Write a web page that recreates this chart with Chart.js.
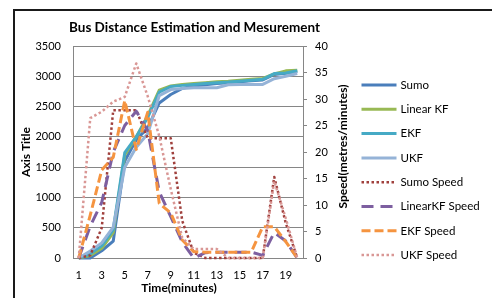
<!DOCTYPE html>
<html>
<head>
<meta charset="utf-8">
<title>Bus Distance Estimation and Mesurement</title>
<script src="https://cdn.jsdelivr.net/npm/chart.js@4.4.1/dist/chart.umd.min.js"></script>
<style>
    html, body { margin: 0; padding: 0; background: #fff; overflow: hidden; }
    #wrap { position: relative; width: 492px; height: 298px; }
</style>
</head>
<body>
<div id="wrap"><canvas id="busChart" width="492" height="298"></canvas></div>
<script>
// Time axis (minutes)
const minutes = [1, 2, 3, 4, 5, 6, 7, 8, 9, 10, 11, 12, 13, 14, 15, 16, 17, 18, 19, 20];

// Distance (left axis)
const sumoDist     = [0, 0, 120, 280, 1600, 1950, 2150, 2560, 2700, 2800, 2840, 2860, 2880, 2895, 2910, 2925, 2940, 3030, 3050, 3080];
const linearKfDist = [0, 40, 160, 420, 1700, 2000, 2350, 2770, 2840, 2865, 2880, 2895, 2910, 2920, 2935, 2950, 2965, 3040, 3090, 3100];
const ekfDist      = [0, 70, 200, 470, 1740, 2000, 2320, 2740, 2830, 2850, 2865, 2880, 2895, 2905, 2920, 2935, 2950, 3045, 3055, 3090];
const ukfDist      = [0, 115, 250, 510, 1500, 1830, 2050, 2680, 2780, 2800, 2810, 2810, 2810, 2860, 2865, 2865, 2865, 2960, 3000, 3045];

// Speed (right axis)
const sumoSpeed     = [0, 0.5, 5.7, 27.9, 27.9, 27.9, 22.6, 22.6, 22.6, 7, 1, 0, 0, 0, 0, 0, 0, 15.3, 6.6, 0];
const linearKfSpeed = [0, 6, 10.5, 20, 25, 27.7, 24, 12.5, 7.8, 3, 0, 1, 1.1, 1.1, 1.1, 1.1, 0.5, 4.8, 3.2, 0];
const ekfSpeed      = [0, 8.1, 16.6, 19, 29.7, 20.5, 27.5, 10.3, 8.5, 3.4, 1.2, 1.1, 1.1, 1.1, 1.1, 1.1, 5.9, 5.9, 3.1, 0];
const ukfSpeed      = [0, 26.4, 27.6, 29.5, 30.4, 36.7, 30.5, 23, 13, 3.8, 1.7, 1.7, 1.7, 0, 0, 0, 0, 14.5, 7.5, 0];

const FONT = 'Lato, "Open Sans", sans-serif';

// helper for one series
function series(label, data, color, axis, width, dash) {
    return {
        label: label,
        data: data,
        yAxisID: axis,
        borderColor: color,
        backgroundColor: color,
        borderWidth: width,
        borderDash: dash,
        borderJoinStyle: 'round',
        pointRadius: 0,
        pointHoverRadius: 0,
        tension: 0,
        fill: false,
        clip: false
    };
}

const datasets = [
    series('Sumo', sumoDist, '#4A7EBB', 'y', 3, []),
    series('Linear KF', linearKfDist, '#98B954', 'y', 3, []),
    series('EKF', ekfDist, '#46AAC5', 'y', 3, []),
    series('UKF', ukfDist, '#95B3D7', 'y', 3, []),
    series('Sumo Speed', sumoSpeed, '#A0403D', 'y1', 2.5, [2.5, 2.5]),
    series('LinearKF Speed', linearKfSpeed, '#7D5FA0', 'y1', 3, [12, 7]),
    series('EKF Speed', ekfSpeed, '#F59440', 'y1', 3, [9, 4]),
    series('UKF Speed', ukfSpeed, '#D99795', 'y1', 2.5, [2.5, 2.5])
];
// later series on top, like the original
datasets.forEach((ds, i) => { ds.order = datasets.length - 1 - i; });

// frame, titles and legend
const chartDecor = {
    id: 'chartDecor',
    beforeDraw(chart) {
        const ctx = chart.ctx;
        ctx.save();
        ctx.fillStyle = '#fff';
        ctx.fillRect(0, 0, chart.width, chart.height);
        ctx.fillStyle = '#1a1a1a';
        ctx.fillRect(13, 9, chart.width - 13, 2);
        ctx.fillRect(13, 9, 2, chart.height - 9);
        ctx.restore();
    },
    afterDraw(chart) {
        const ctx = chart.ctx;
        ctx.save();
        ctx.fillStyle = '#000';
        ctx.textBaseline = 'middle';
        ctx.textAlign = 'center';

        ctx.font = 'bold 13.5px ' + FONT;
        ctx.fillText('Bus Distance Estimation and Mesurement', 194.5, 28);

        ctx.font = 'bold 12px ' + FONT;
        ctx.fillText('Time(minutes)', 179, 288);

        ctx.save();
        ctx.translate(26.5, 152);
        ctx.rotate(-Math.PI / 2);
        ctx.fillText('Axis Title', 0, 0);
        ctx.restore();

        ctx.save();
        ctx.translate(343.5, 146.5);
        ctx.rotate(-Math.PI / 2);
        ctx.fillText('Speed(metres/minutes)', 0, 0);
        ctx.restore();

        // legend
        ctx.textAlign = 'left';
        ctx.font = '11.5px ' + FONT;
        chart.data.datasets.forEach((ds, i) => {
            const y = 85 + i * 24.3;
            ctx.save();
            ctx.strokeStyle = ds.borderColor;
            ctx.lineWidth = ds.borderWidth;
            ctx.setLineDash(ds.borderDash);
            ctx.beginPath();
            ctx.moveTo(361.5, y);
            ctx.lineTo(396.5, y);
            ctx.stroke();
            ctx.restore();
            ctx.fillText(ds.label, 400.5, y);
        });
        ctx.restore();
    }
};

const tickFont = { family: FONT, size: 11 };
const plainNumber = (value) => String(value);

new Chart(document.getElementById('busChart'), {
    type: 'line',
    data: {
        labels: minutes,
        datasets: datasets
    },
    options: {
        responsive: false,
        animation: false,
        devicePixelRatio: 1,
        layout: { padding: { top: 46, left: 0, right: 0, bottom: 0 } },
        plugins: {
            legend: { display: false },
            title: { display: false },
            tooltip: { enabled: false }
        },
        scales: {
            x: {
                type: 'category',
                offset: true,
                grid: { display: false, drawTicks: false },
                border: { display: true, color: '#868686' },
                ticks: {
                    autoSkip: false,
                    maxRotation: 0,
                    padding: 11,
                    color: '#000',
                    font: tickFont,
                    callback: function (value, index) {
                        return index % 2 === 0 ? this.getLabelForValue(value) : '';
                    }
                },
                afterFit: (scale) => { scale.height = 40; }
            },
            y: {
                position: 'left',
                min: 0,
                max: 3500,
                ticks: { stepSize: 500, padding: 12, color: '#000', font: tickFont, callback: plainNumber },
                grid: { color: '#868686', drawTicks: false },
                border: { display: true, color: '#868686' },
                afterFit: (scale) => { scale.width = 73; }
            },
            y1: {
                position: 'right',
                min: 0,
                max: 40,
                ticks: { stepSize: 5, padding: 8, color: '#000', font: tickFont, callback: plainNumber },
                grid: { drawOnChartArea: false, drawTicks: true, tickLength: 4, color: '#868686' },
                border: { display: true, color: '#868686' },
                afterFit: (scale) => { scale.width = 189; }
            }
        }
    },
    plugins: [chartDecor]
});
</script>
</body>
</html>
